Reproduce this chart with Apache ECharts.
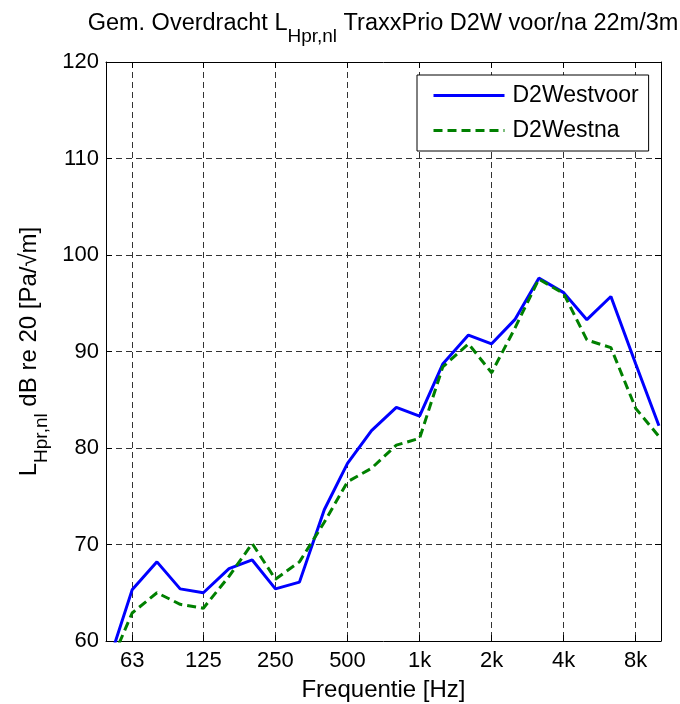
<!DOCTYPE html>
<html>
<head>
<meta charset="utf-8">
<script src="https://cdn.jsdelivr.net/npm/echarts@6/dist/echarts.min.js"></script>
<style>
  html, body { margin: 0; padding: 0; background: #fff; }
  #chart { width: 680px; height: 704px; }
</style>
</head>
<body>
<div id="chart"></div>
<script>
const FONT = "'Liberation Sans', Arial, sans-serif";

// third-octave band centre frequencies (Hz)
const freqs = [50, 63, 80, 100, 125, 160, 200, 250, 315, 400, 500, 630, 800,
  1000, 1250, 1600, 2000, 2500, 3150, 4000, 5000, 6300, 8000, 10000];

const westVoor = [57.6, 65.3, 68.2, 65.4, 65.0, 67.5, 68.4, 65.4, 66.1, 73.6, 78.4, 81.8, 84.2,
  83.3, 88.7, 91.7, 90.8, 93.3, 97.6, 96.1, 93.3, 95.7, 88.7, 82.3];

const westNa = [57.1, 62.9, 65.0, 63.8, 63.4, 66.7, 70.1, 66.4, 68.2, 72.3, 76.5, 77.9, 80.3,
  81.0, 88.4, 90.8, 87.8, 92.4, 97.5, 96.0, 91.2, 90.4, 84.1, 81.2];

const tickFreqs = [63, 125, 250, 500, 1000, 2000, 4000, 8000];
const tickLabels = ["63", "125", "250", "500", "1k", "2k", "4k", "8k"];

const xMinHz = 49;
const xMaxHz = 10200;

const lg = (f) => Math.log10(f);
const tickPos = tickFreqs.map(lg);

function tickLabel(v) {
  let best = 0;
  tickPos.forEach((p, i) => {
    if (Math.abs(p - v) < Math.abs(tickPos[best] - v)) best = i;
  });
  return tickLabels[best];
}

const chart = echarts.init(document.getElementById("chart"));

const gridLine = { show: true, lineStyle: { color: "#333", width: 1, type: [6, 4] } };

// main text + lowered subscript, used by title and y-axis name
function subRich(size, subSize, drop) {
  return {
    a: { fontFamily: FONT, fontSize: size, fontWeight: "normal", lineHeight: size, color: "#000", verticalAlign: "top" },
    b: { fontFamily: FONT, fontSize: subSize, fontWeight: "normal", lineHeight: subSize, color: "#000", verticalAlign: "top", padding: [drop, 0, 0, 0] }
  };
}

chart.setOption({
  animation: false,
  backgroundColor: "#fff",
  textStyle: { fontFamily: FONT },
  title: {
    text: "{a|Gem. Overdracht L}{b|Hpr,nl}{a| TraxxPrio D2W voor/na 22m/3m}",
    left: 383,
    top: 12,
    textAlign: "center",
    padding: 0,
    textStyle: { fontWeight: "normal", rich: subRich(23.5, 19, 15) }
  },
  legend: {
    orient: "vertical",
    left: 417,
    top: 75,
    padding: [9, 10, 9, 15],
    itemGap: 12,
    itemWidth: 71,
    itemHeight: 14,
    backgroundColor: "#fff",
    borderColor: "#000",
    borderWidth: 1,
    itemStyle: { opacity: 0 },
    lineStyle: { width: 3 },
    textStyle: { fontFamily: FONT, fontSize: 23, color: "#000", padding: [0, 0, 0, 3] },
    data: ["D2Westvoor", "D2Westna"]
  },
  grid: { left: 106, right: 19, top: 62, bottom: 63, containLabel: false, outerBoundsMode: "none" },
  xAxis: [
    {
      type: "value",
      min: lg(xMinHz),
      max: lg(xMaxHz),
      name: "Frequentie [Hz]",
      nameLocation: "middle",
      nameGap: 37,
      nameTextStyle: { fontFamily: FONT, fontSize: 24, color: "#000" },
      axisLine: { show: true, onZero: false, lineStyle: { color: "#000", width: 1 } },
      axisTick: { show: true, inside: true, length: 6, customValues: tickPos, lineStyle: { color: "#000" } },
      axisLabel: { customValues: tickPos, formatter: tickLabel, fontFamily: FONT, fontSize: 22, color: "#000", margin: 9 },
      splitLine: gridLine
    },
    {
      type: "value",
      position: "top",
      min: lg(xMinHz),
      max: lg(xMaxHz),
      axisLine: { show: true, onZero: false, lineStyle: { color: "#000", width: 1 } },
      axisTick: { show: true, inside: true, length: 6, customValues: tickPos, lineStyle: { color: "#000" } },
      axisLabel: { show: false },
      splitLine: { show: false }
    }
  ],
  yAxis: [
    {
      type: "value",
      min: 60,
      max: 120,
      interval: 10,
      name: "{a|L}{b|Hpr,nl}{a| dB re 20 [Pa/√m]}",
      nameLocation: "middle",
      nameRotate: 90,
      nameGap: 62,
      nameTextStyle: { rich: subRich(24, 19, 15) },
      axisLine: { show: true, onZero: false, lineStyle: { color: "#000", width: 1 } },
      axisTick: { show: true, inside: true, length: 6, lineStyle: { color: "#000" } },
      axisLabel: { fontFamily: FONT, fontSize: 22, color: "#000", margin: 7 },
      splitLine: gridLine
    },
    {
      type: "value",
      position: "right",
      min: 60,
      max: 120,
      interval: 10,
      axisLine: { show: true, onZero: false, lineStyle: { color: "#000", width: 1 } },
      axisTick: { show: true, inside: true, length: 6, lineStyle: { color: "#000" } },
      axisLabel: { show: false },
      splitLine: { show: false }
    }
  ],
  series: [
    {
      name: "D2Westvoor",
      type: "line",
      xAxisIndex: 0,
      yAxisIndex: 0,
      symbol: "none",
      clip: true,
      color: "#0000ff",
      lineStyle: { color: "#0000ff", width: 3 },
      data: freqs.map((f, i) => [lg(f), westVoor[i]])
    },
    {
      name: "D2Westna",
      type: "line",
      xAxisIndex: 0,
      yAxisIndex: 0,
      symbol: "none",
      clip: true,
      color: "#008000",
      lineStyle: { color: "#008000", width: 3, type: [9, 5] },
      data: freqs.map((f, i) => [lg(f), westNa[i]])
    }
  ]
});
</script>
</body>
</html>
